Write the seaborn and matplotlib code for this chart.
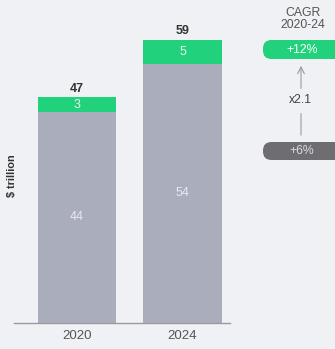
import matplotlib
matplotlib.use("Agg")
import matplotlib.pyplot as plt
import seaborn as sns
import pandas as pd
from matplotlib.patches import FancyBboxPatch

years = ["2020", "2024"]
base_vals = [44, 54]
green_vals = [3, 5]
totals = [b + g for b, g in zip(base_vals, green_vals)]
cagr_title = "CAGR\n2020-24"
cagr_green = "+12%"
cagr_gray = "+6%"
multiplier = "x2.1"
ylabel = "$ trillion"

BG = "#f0f1f5"
GRAY = "#a9adbc"
GREEN = "#22d17b"
DARK = "#6d6d72"

sns.set_theme(style="white")
plt.rcParams["font.family"] = ["Liberation Sans", "DejaVu Sans"]

df = pd.DataFrame({"year": years, "base": base_vals, "green": green_vals, "total": totals})

W, H = 335, 349
fig = plt.figure(figsize=(W / 100, H / 100), dpi=100, facecolor=BG)
ax = fig.add_axes([14 / W, (H - 323) / H, (230 - 14) / W, 323 / H])
ax.set_facecolor(BG)

sns.barplot(data=df, x="year", y="total", color=GREEN, width=0.74, ax=ax,
            saturation=1, edgecolor="none")
sns.barplot(data=df, x="year", y="base", color=GRAY, width=0.74, ax=ax,
            saturation=1, edgecolor="none")

ax.set_xlim(-0.597, 1.45)
ax.set_ylim(0, 323 / 4.8)
for s in ["top", "right", "left"]:
    ax.spines[s].set_visible(False)
ax.spines["bottom"].set_color("#9a9aa0")
ax.spines["bottom"].set_linewidth(1.0)
ax.set_yticks([])
ax.set_xlabel("")
ax.set_ylabel("")
ax.tick_params(axis="x", length=0, pad=5, labelsize=9.5, labelcolor="#555555")

for i, (b, g, t) in enumerate(zip(base_vals, green_vals, totals)):
    ax.text(i, b / 2, str(b), ha="center", va="center", color="#e9eaf0", fontsize=9)
    ax.text(i, b + g / 2, str(g), ha="center", va="center", color="#e9f7ee", fontsize=9)
    ax.text(i, t + 0.6, str(t), ha="center", va="bottom", color="#333333",
            fontsize=9, fontweight="bold")

fig.text(12 / W, 1 - 176 / H, ylabel, rotation=90, ha="center", va="center",
         fontsize=7.8, fontweight="bold", color="#333333")

# Right annotation panel in pixel coordinates
ov = fig.add_axes([0, 0, 1, 1], facecolor="none")
ov.set_xlim(0, W)
ov.set_ylim(H, 0)
ov.axis("off")

ov.text(303, 19, cagr_title, ha="center", va="center", fontsize=8.8,
        color="#555555", linespacing=0.95)
ov.add_patch(FancyBboxPatch((263, 40), 80, 19, boxstyle="round,pad=0,rounding_size=8.5",
                            facecolor=GREEN, edgecolor="none"))
ov.text(302, 50, cagr_green, ha="center", va="center", fontsize=8.8,
        color="white")
ov.add_patch(FancyBboxPatch((263, 142), 80, 18, boxstyle="round,pad=0,rounding_size=8.5",
                            facecolor=DARK, edgecolor="none"))
ov.text(302, 151.5, cagr_gray, ha="center", va="center", fontsize=8.8, color="#dcdce0")
ov.annotate("", xy=(301, 63), xytext=(301, 138),
            arrowprops=dict(arrowstyle="->", color="#9a9aa0", lw=0.8))
ov.text(300, 100, multiplier, ha="center", va="center", fontsize=8.8,
        color="#444444", backgroundcolor=BG)

fig.savefig("out.png", dpi=100, facecolor=BG)
